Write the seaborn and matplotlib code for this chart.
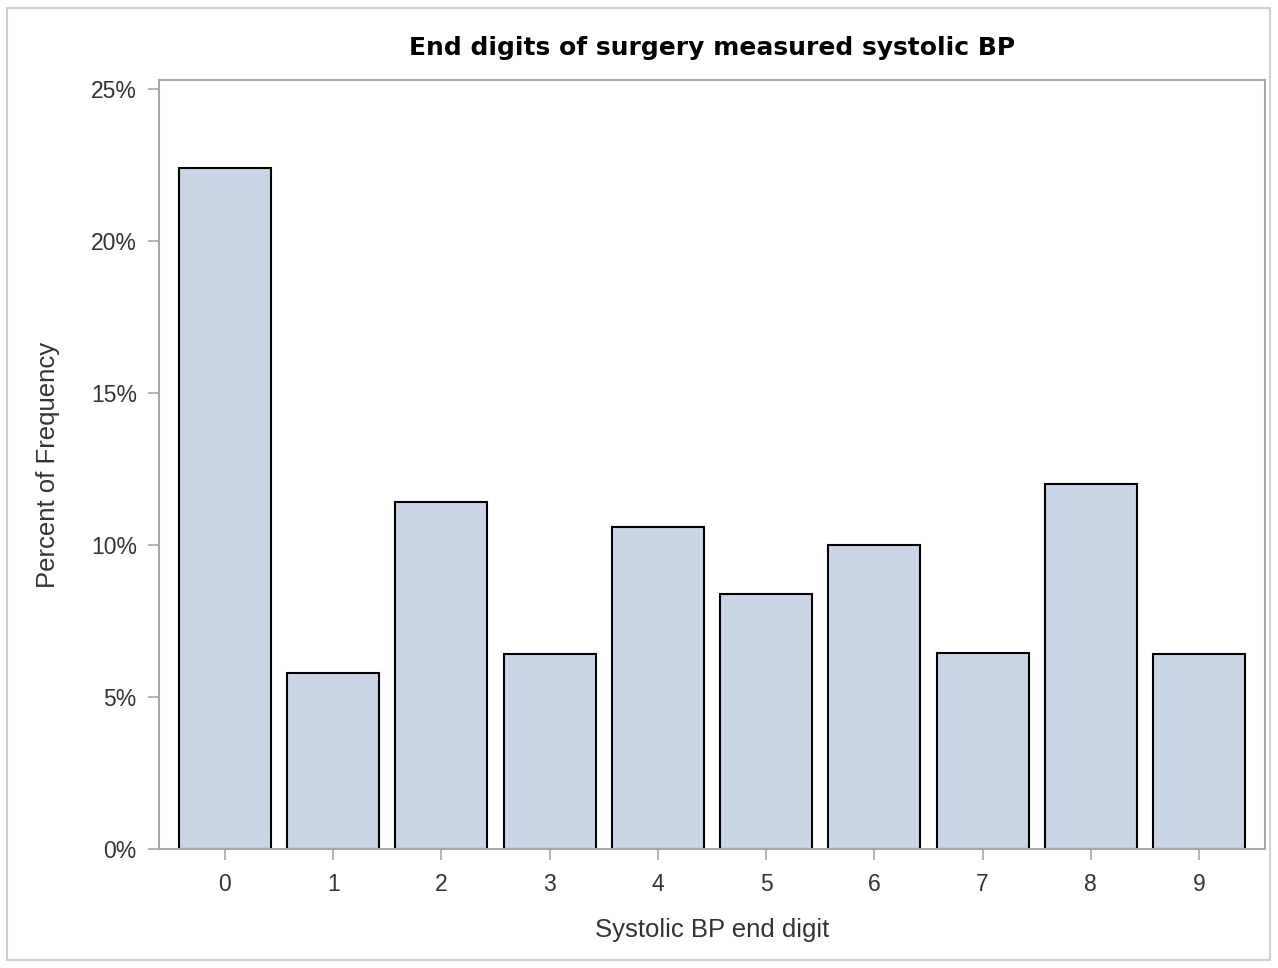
import numpy as np
import pandas as pd
import matplotlib
matplotlib.use('Agg')
import matplotlib.pyplot as plt
import matplotlib.patches as mpatches
from matplotlib.ticker import FuncFormatter
import seaborn as sns

END_DIGITS = ['0', '1', '2', '3', '4', '5', '6', '7', '8', '9']
PERCENTS = [22.4, 5.8, 11.4, 6.4, 10.6, 8.4, 10.0, 6.45, 12.0, 6.4]

BAR_COLOR = '#CAD5E5'
AXIS_GRAY = '#A3A8AD'
TEXT_GRAY = '#333333'


def main():
    sns.set_theme(style='white')
    plt.rcParams['font.family'] = ['Liberation Sans', 'DejaVu Sans']

    df = pd.DataFrame({'digit': END_DIGITS, 'pct': PERCENTS})

    fig = plt.figure(figsize=(12.78, 9.68), dpi=100)
    ax = fig.add_axes([0.1244, 0.1229, 0.8654, 0.7945])

    sns.barplot(data=df, x='digit', y='pct', order=END_DIGITS, color=BAR_COLOR,
                saturation=1, width=0.85, edgecolor='black', linewidth=1.5, ax=ax)

    ax.set_xlim(-0.61, 9.61)
    ax.set_ylim(0, 25.3)
    ax.set_yticks([0, 5, 10, 15, 20, 25])
    ax.yaxis.set_major_formatter(FuncFormatter(lambda v, p: f'{v:.0f}%'))

    for s in ax.spines.values():
        s.set_color(AXIS_GRAY)
        s.set_linewidth(1.5)
    ax.tick_params(axis='both', which='major', length=8, width=1.2, color=AXIS_GRAY,
                   labelsize=16.5, labelcolor=TEXT_GRAY, bottom=True, left=True)
    ax.tick_params(axis='y', pad=8)
    ax.tick_params(axis='x', pad=9)

    ax.set_xlabel('Systolic BP end digit', fontsize=18.5, color=TEXT_GRAY, labelpad=16)
    ax.set_ylabel('Percent of Frequency', fontsize=18.5, color=TEXT_GRAY, labelpad=22)
    ax.set_title('End digits of surgery measured systolic BP', fontsize=18,
                 fontweight='bold', color='black', pad=18, family='DejaVu Sans')

    border = mpatches.Rectangle((7 / 1278, 8 / 968), 1263 / 1278, 952 / 968,
                                transform=fig.transFigure, fill=False,
                                edgecolor='#D0D0D0', linewidth=1.5)
    fig.patches.append(border)

    fig.savefig('out.png', dpi=100)
    plt.close(fig)


if __name__ == '__main__':
    main()
